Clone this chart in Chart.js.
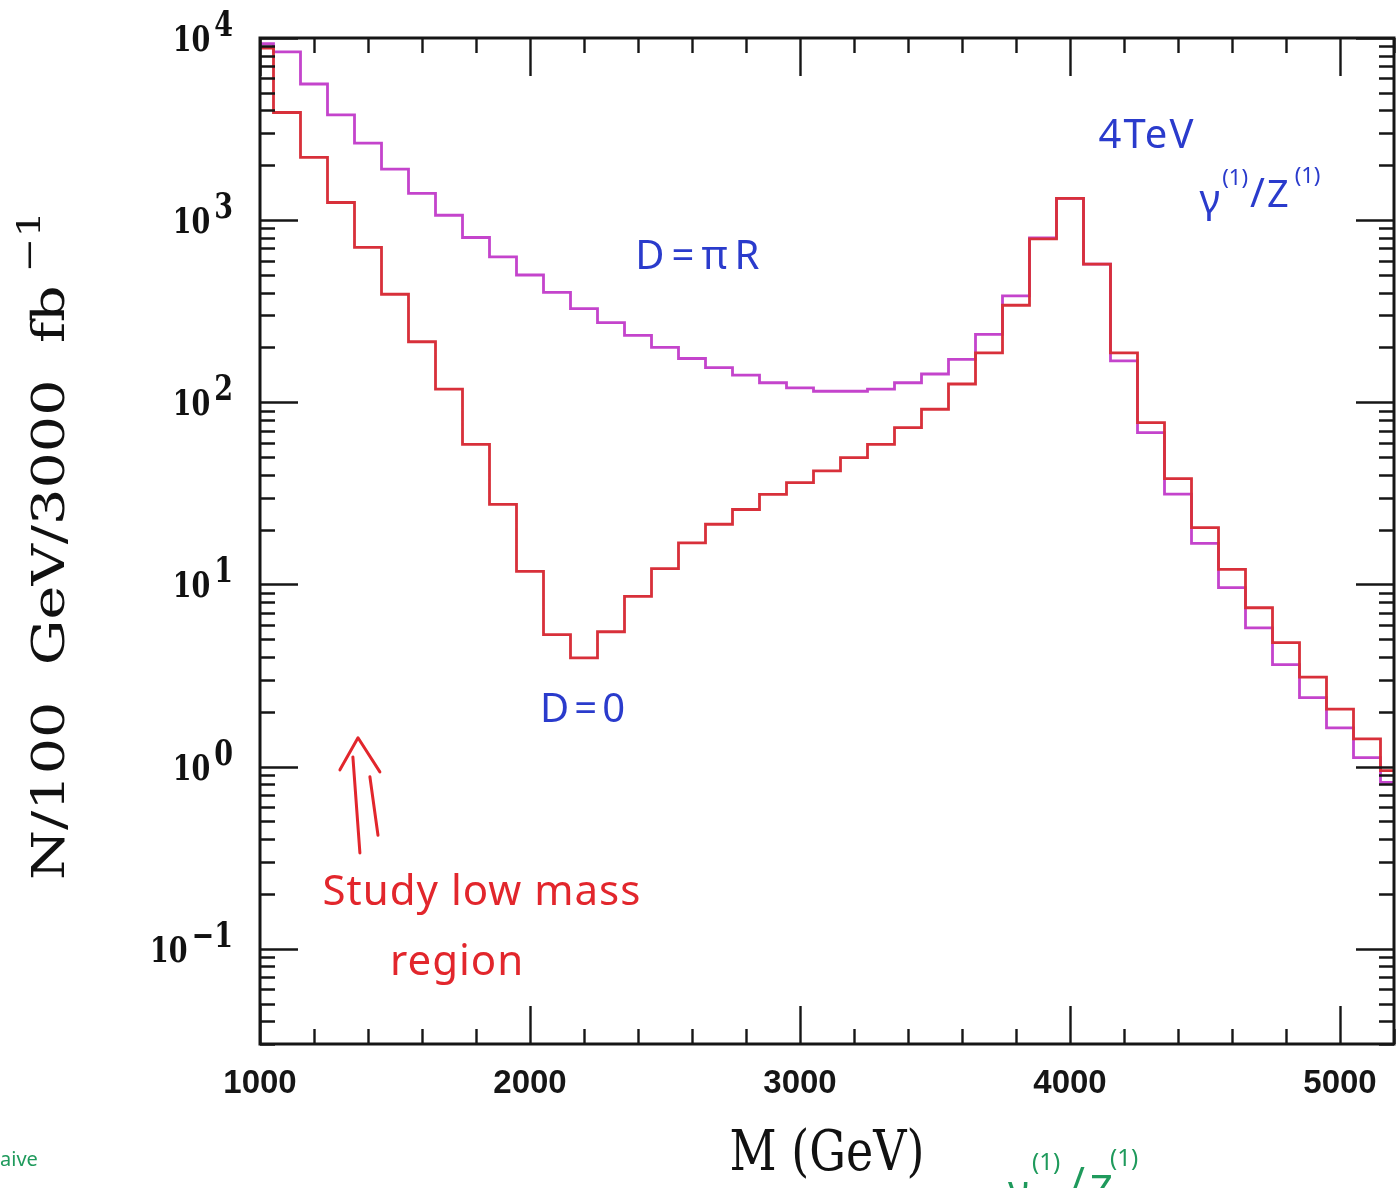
<!DOCTYPE html>
<html>
<head>
<meta charset="utf-8">
<script src="https://cdn.jsdelivr.net/npm/chart.js@4.4.1/dist/chart.umd.min.js"></script>
<style>
  html, body { margin: 0; padding: 0; background: #ffffff; }
  #wrap { width: 1400px; height: 1188px; position: relative; }
</style>
</head>
<body>
<div id="wrap"><canvas id="c" width="1400" height="1188"></canvas></div>
<script>
// Dilepton invariant mass bins (centre of each 100 GeV bin)
const massBins = [1000, 1100, 1200, 1300, 1400, 1500, 1600, 1700, 1800, 1900,
                  2000, 2100, 2200, 2300, 2400, 2500, 2600, 2700, 2800, 2900,
                  3000, 3100, 3200, 3300, 3400, 3500, 3600, 3700, 3800, 3900,
                  4000, 4100, 4200, 4300, 4400, 4500, 4600, 4700, 4800, 4900,
                  5000, 5100, 5200];

// Events per 100 GeV per 3000 fb^-1, brane-localized fermions (D = 0)
const eventsD0 = [8800, 3900, 2210, 1250, 708, 392, 215, 118, 58.8, 27.5,
                  11.8, 5.3, 3.95, 5.5, 8.6, 12.2, 16.9, 21.4, 25.8, 31.2,
                  36.2, 42.0, 49.7, 58.8, 72.6, 91.6, 126, 187, 341, 790,
                  1316, 573, 187, 77.3, 38.1, 20.5, 12.1, 7.45, 4.79, 3.10,
                  2.07, 1.42, 0.95];

// Events per 100 GeV per 3000 fb^-1, fermions at the far brane (D = piR)
const eventsDpiR = [9300, 8400, 5590, 3780, 2650, 1905, 1402, 1064, 803, 628,
                    500, 401, 327, 274, 233, 200, 174, 155, 141, 128,
                    120, 115, 115, 118, 128, 143, 172, 236, 384, 800,
                    1316, 573, 169, 68.1, 31.3, 16.8, 9.6, 5.78, 3.63, 2.39,
                    1.63, 1.12, 0.82];

// Axis labelling
const xTickLabels = [1000, 2000, 3000, 4000, 5000];
const yDecadeExponents = [-1, 0, 1, 2, 3, 4];

const SERIF = '"DejaVu Serif", "Liberation Serif", serif';
const HAND = '"Noto Sans", "DejaVu Sans", sans-serif';
const BLUE = '#2a3bcc';
const RED = '#e2262c';
const GREEN = '#1f9a5c';

// Text stretched vertically, as in the original plotting package
function stretchedText(ctx, text, x, y, sy, align) {
  ctx.save();
  ctx.translate(x, y);
  ctx.scale(1, sy);
  ctx.textAlign = align;
  ctx.textBaseline = 'alphabetic';
  ctx.fillText(text, 0, 0);
  ctx.restore();
}

// Frame, inward tick marks on all four sides, decade labels and axis titles
const framePlugin = {
  id: 'framePlugin',
  afterDraw(chart) {
    const { ctx, chartArea: a, scales: { x, y } } = chart;
    const major = 38, minor = 15;
    ctx.save();
    ctx.strokeStyle = '#161616';
    ctx.lineCap = 'butt';

    // x ticks every 200 GeV, long ones every 1000 GeV
    ctx.lineWidth = 2.4;
    ctx.beginPath();
    for (let m = x.min; m <= x.max + 1e-6; m += 200) {
      const px = Math.round(x.getPixelForValue(m)) + 0.5;
      const len = (m % 1000 === 0) ? major : minor;
      ctx.moveTo(px, a.bottom); ctx.lineTo(px, a.bottom - len);
      ctx.moveTo(px, a.top); ctx.lineTo(px, a.top + len);
    }
    // log y ticks: 1..9 x 10^d
    for (let d = -2; d <= 4; d++) {
      for (let k = 1; k <= 9; k++) {
        const v = k * Math.pow(10, d);
        if (v < y.min || v > y.max) continue;
        const py = Math.round(y.getPixelForValue(v)) + 0.5;
        const len = (k === 1) ? major : minor;
        ctx.moveTo(a.left, py); ctx.lineTo(a.left + len, py);
        ctx.moveTo(a.right, py); ctx.lineTo(a.right - len, py);
      }
    }
    ctx.stroke();

    // frame
    ctx.lineWidth = 3;
    ctx.strokeRect(a.left, a.top, a.right - a.left, a.bottom - a.top);

    // y decade labels 10^n
    ctx.fillStyle = '#111111';
    const fs = 27, sy = 1.3;
    ctx.font = 'bold ' + fs + 'px ' + SERIF;
    yDecadeExponents.forEach(e => {
      const py = y.getPixelForValue(Math.pow(10, e));
      const expText = e < 0 ? '\u2212' + Math.abs(e) : String(e);
      const expW = ctx.measureText(expText).width;
      const expRight = 233;
      stretchedText(ctx, expText, expRight, py - 2, sy, 'right');
      stretchedText(ctx, '10', expRight - expW - 4, py + 13, sy, 'right');
    });

    // x title
    ctx.font = '46px ' + SERIF;
    stretchedText(ctx, 'M (GeV)', (a.left + a.right) / 2, 1170, 1.22, 'center');

    // y title, rotated
    ctx.save();
    ctx.translate(64, 880);
    ctx.rotate(-Math.PI / 2);
    ctx.scale(1.3, 1);
    ctx.font = '44px ' + SERIF;
    ctx.textAlign = 'left';
    const mainTitle = 'N/100  GeV/3000  fb';
    ctx.fillText(mainTitle, 0, 0);
    const tw = ctx.measureText(mainTitle).width;
    ctx.font = '32px ' + SERIF;
    ctx.fillText('\u22121', tw + 10, -24);
    ctx.restore();

    ctx.restore();
  }
};

// Hand-written notes placed in data coordinates (GeV, events)
const notes = [
  { text: 'D=\u03c0R', m: 2633, v: 621, color: BLUE, size: 40, spacing: 7 },
  { text: 'D=0', m: 2204, v: 2.02, color: BLUE, size: 40, spacing: 5 },
  { text: '4TeV', m: 4285, v: 2862, color: BLUE, size: 40, spacing: 2 },
  { text: 'Study low mass', m: 1822, v: 0.203, color: RED, size: 42, spacing: 1 },
  { text: 'region', m: 1730, v: 0.0838, color: RED, size: 42, spacing: 1 }
];

// Double-shafted arrow pointing at the low-mass region
const arrowShafts = [
  [[1344, 1.13], [1370, 0.336]],
  [[1407, 0.88], [1437, 0.42]]
];
const arrowHead = [[1296, 0.96], [1363, 1.44], [1444, 0.935]];

const notesPlugin = {
  id: 'notesPlugin',
  afterDraw(chart) {
    const { ctx, scales: { x, y } } = chart;
    ctx.save();
    ctx.textBaseline = 'middle';
    ctx.textAlign = 'center';
    notes.forEach(n => {
      ctx.font = n.size + 'px ' + HAND;
      ctx.fillStyle = n.color;
      ctx.letterSpacing = n.spacing + 'px';
      ctx.fillText(n.text, x.getPixelForValue(n.m), y.getPixelForValue(n.v));
    });
    ctx.letterSpacing = '0px';

    // gamma(1)/Z(1) resonance label
    const gx = x.getPixelForValue(4480), gy = y.getPixelForValue(1100);
    ctx.fillStyle = BLUE;
    ctx.textAlign = 'left';
    ctx.textBaseline = 'alphabetic';
    let cx = gx;
    const piece = (t, size, dy) => {
      ctx.font = size + 'px ' + HAND;
      ctx.fillText(t, cx, gy + dy);
      cx += ctx.measureText(t).width + 2;
    };
    piece('\u03b3', 40, 0);
    piece('(1)', 22, -28);
    piece('/', 40, -6);
    piece('Z', 38, -6);
    cx += 4;
    piece('(1)', 22, -30);

    // arrow
    ctx.strokeStyle = RED;
    ctx.lineWidth = 3;
    ctx.lineCap = 'round';
    ctx.lineJoin = 'round';
    ctx.beginPath();
    arrowShafts.forEach(s => {
      ctx.moveTo(x.getPixelForValue(s[0][0]), y.getPixelForValue(s[0][1]));
      ctx.lineTo(x.getPixelForValue(s[1][0]), y.getPixelForValue(s[1][1]));
    });
    arrowHead.forEach((p, i) => {
      const px = x.getPixelForValue(p[0]), py = y.getPixelForValue(p[1]);
      if (i === 0) ctx.moveTo(px, py); else ctx.lineTo(px, py);
    });
    ctx.stroke();

    // fragments of notes continuing below the plot
    ctx.fillStyle = GREEN;
    ctx.font = '20px ' + HAND;
    ctx.textAlign = 'left';
    ctx.fillText('aive', 0, 1166);
    ctx.font = '24px ' + HAND;
    ctx.fillText('(1)', 1032, 1170);
    ctx.fillText('(1)', 1110, 1166);
    ctx.font = '40px ' + HAND;
    ctx.fillText('\u03b3', 1008, 1204);
    ctx.fillText('/', 1070, 1196);
    ctx.fillText('Z', 1090, 1204);
    ctx.restore();
  }
};

const toPoints = vals => massBins.map((m, i) => ({ x: m, y: vals[i] }));

new Chart(document.getElementById('c'), {
  type: 'line',
  data: {
    datasets: [
      {
        label: 'D=0',
        data: toPoints(eventsD0),
        borderColor: '#d8303a',
        borderWidth: 2.8,
        stepped: 'middle',
        pointRadius: 0,
        fill: false
      },
      {
        label: 'D=\u03c0R',
        data: toPoints(eventsDpiR),
        borderColor: '#c444cc',
        borderWidth: 2.8,
        stepped: 'middle',
        pointRadius: 0,
        fill: false
      }
    ]
  },
  options: {
    responsive: false,
    animation: false,
    devicePixelRatio: 1,
    layout: { padding: { top: 38, right: 6, left: 0, bottom: 0 } },
    plugins: { legend: { display: false }, tooltip: { enabled: false } },
    scales: {
      x: {
        type: 'linear',
        min: 1000,
        max: 5200,
        afterFit(s) { s.height = 144; s.paddingRight = 0; },
        afterBuildTicks(s) { s.ticks = xTickLabels.map(v => ({ value: v })); },
        grid: { display: false, drawTicks: false },
        border: { display: false },
        ticks: {
          autoSkip: false,
          maxRotation: 0,
          padding: 20,
          color: '#161616',
          callback: v => String(v),
          font: { family: '"Liberation Sans", Arial, sans-serif', size: 33, weight: 'bold' }
        }
      },
      y: {
        type: 'logarithmic',
        min: 0.03,
        max: 10000,
        afterFit(s) { s.width = 260; },
        grid: { display: false, drawTicks: false },
        border: { display: false },
        ticks: { display: false }
      }
    }
  },
  plugins: [framePlugin, notesPlugin]
});
</script>
</body>
</html>
